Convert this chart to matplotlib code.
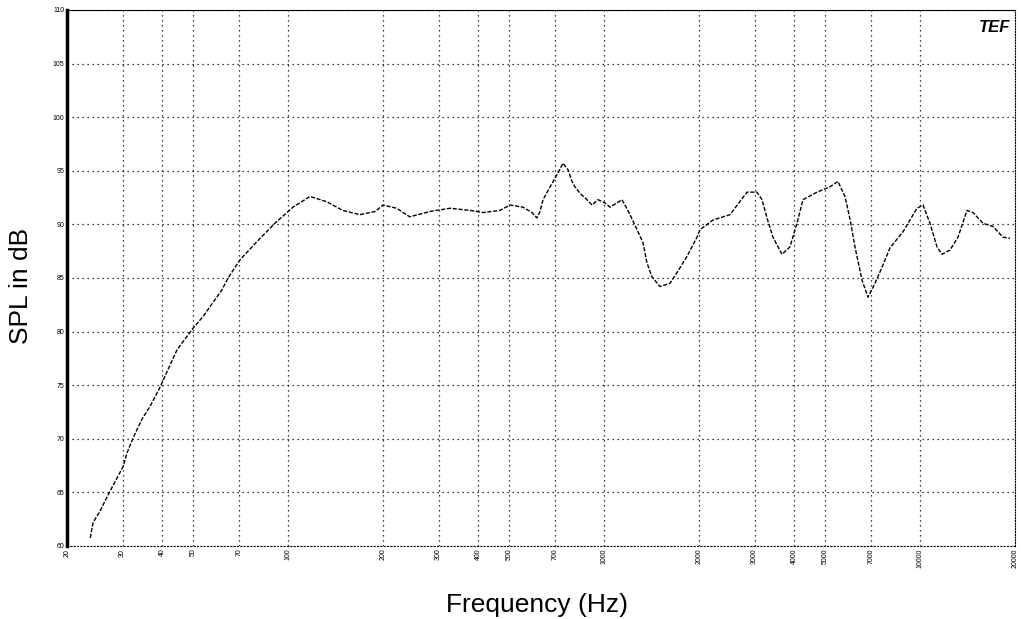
import numpy as np
import matplotlib
matplotlib.use("Agg")
import matplotlib.pyplot as plt
from matplotlib.ticker import FixedLocator, NullLocator

plt.rcParams['font.family'] = ['Liberation Sans', 'DejaVu Sans']

# frequency response (Hz, dB SPL)
freq = [23.7, 24.2, 25.4, 26.8, 28.4, 30.1, 31.0, 32.4, 34.5, 36.6, 39.4, 40.8,
        44.6, 50.1, 53.9, 61.9, 64.7, 70.6, 79.9, 91.0, 103.8, 117.5, 133, 149,
        169, 189, 200, 221, 243, 282, 326, 377, 415, 469, 505, 555, 592, 614,
        628, 642, 676, 716, 742, 770, 793, 810, 840, 884, 917, 958, 1008, 1046,
        1101, 1141, 1192, 1255, 1330, 1369, 1420, 1505, 1619, 1704, 1832, 1971,
        2015, 2215, 2506, 2838, 3051, 3166, 3282, 3429, 3662, 3882, 4084, 4268,
        4726, 5196, 5508, 5794, 6010, 6233, 6560, 6853, 7212, 7590, 8044, 8843,
        9794, 10232, 10766, 11330, 11750, 12456, 13204, 14096, 14726, 15840,
        17038, 18324, 19286]
spl = [60.75, 62.2, 63.2, 64.6, 66.0, 67.4, 68.7, 70.1, 71.8, 73.0, 74.8, 75.8,
       78.3, 80.3, 81.4, 83.9, 85.0, 86.7, 88.4, 90.1, 91.6, 92.6, 92.1, 91.3,
       90.9, 91.2, 91.8, 91.5, 90.7, 91.2, 91.5, 91.3, 91.1, 91.3, 91.8, 91.6,
       91.1, 90.6, 91.2, 92.3, 93.5, 94.8, 95.7, 95.1, 94.0, 93.5, 92.9, 92.3,
       91.8, 92.3, 92.0, 91.6, 92.0, 92.3, 91.3, 89.9, 88.3, 86.4, 85.1, 84.2,
       84.5, 85.5, 87.0, 88.8, 89.5, 90.4, 90.9, 93.0, 93.0, 92.3, 90.6, 88.8,
       87.2, 87.9, 90.1, 92.3, 93.0, 93.5, 94.0, 92.6, 90.5, 87.9, 84.8, 83.2,
       84.5, 86.0, 87.8, 89.3, 91.5, 91.8, 90.1, 87.9, 87.2, 87.6, 88.8, 91.3,
       91.1, 90.1, 89.8, 88.8, 88.7]

x_ticks = [20, 30, 40, 50, 70, 100, 200, 300, 400, 500, 700, 1000, 2000, 3000,
           4000, 5000, 7000, 10000, 20000]
y_ticks = [60, 65, 70, 75, 80, 85, 90, 95, 100, 105, 110]

fig = plt.figure(figsize=(10.21, 6.19), dpi=100)
ax = fig.add_axes([0.0656, 0.118, 0.9285, 0.866])

ax.plot(freq, spl, color='black', lw=1.0, ls=(0, (3, 1.2)))

ax.set_xscale('log')
ax.set_xlim(20, 20000)
ax.set_ylim(60, 110)
ax.xaxis.set_major_locator(FixedLocator(x_ticks))
ax.xaxis.set_minor_locator(NullLocator())
ax.set_xticklabels([str(t) for t in x_ticks], rotation=90, fontsize=5)
ax.set_yticks(y_ticks)
ax.set_yticklabels([str(t) for t in y_ticks], fontsize=5)
ax.tick_params(length=0, pad=2)

ax.grid(True, which='major', color='black', ls=(0, (1, 3)), lw=0.9)

for side in ['top', 'right', 'bottom']:
    ax.spines[side].set_linewidth(0.8)
ax.spines['right'].set_linestyle((0, (1, 1.5)))
ax.spines['bottom'].set_linestyle((0, (1, 2)))
ax.spines['left'].set_linewidth(2.5)

ax.set_xlabel('Frequency (Hz)', fontsize=19, va='center')
ax.xaxis.set_label_coords(0.496, -0.110)
ax.set_ylabel('SPL in dB', fontsize=19, va='center')
ax.yaxis.set_label_coords(-0.049, 0.485)

# TEF logo in the corner
ax.text(0.995, 0.982, 'TEF', transform=ax.transAxes, ha='right', va='top',
        fontsize=12, fontweight='bold', fontstyle='italic', color='black')

fig.savefig('out.png', dpi=100)
